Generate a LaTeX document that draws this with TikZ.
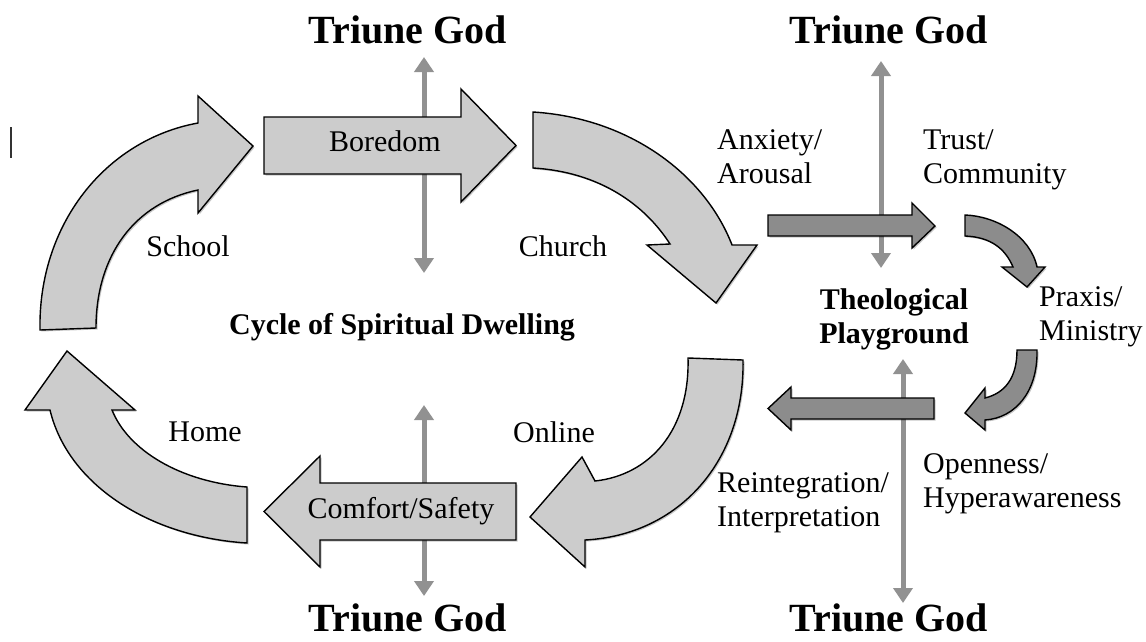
\documentclass[tikz,border=0pt]{standalone}
\usepackage{fontspec}
\setmainfont{Liberation Serif}
\usetikzlibrary{arrows.meta,shadows}
\definecolor{lightfill}{RGB}{204,204,204}
\definecolor{darkfill}{RGB}{140,140,140}
\definecolor{godgray}{RGB}{145,145,145}
\tikzset{
  lbl/.style={font=\fontsize{30}{34}\selectfont, inner sep=0pt, align=left},
  blbl/.style={font=\fontsize{30}{34}\selectfont\bfseries, inner sep=0pt, align=center},
  god/.style={font=\fontsize{40}{44}\selectfont\bfseries, inner sep=0pt, anchor=base},
  shade/.style={drop shadow={shadow xshift=1.5pt, shadow yshift=-1.5pt, fill=black, opacity=0.22}},
  bigarrow/.style={shade, fill=lightfill, draw=black, line width=1.4pt},
  darkarrow/.style={shade, fill=darkfill, draw=black, line width=1.4pt},
  godline/.style={draw=godgray, line width=5pt,
    {Triangle[width=19pt,length=15pt]}-{Triangle[width=19pt,length=15pt]}},
}
\begin{document}
\begin{tikzpicture}[x=1pt,y=-1pt]
\useasboundingbox (0,0) rectangle (1146,641);
\fill[white] (0,0) rectangle (1146,641);

% stray cursor mark
\draw[line width=1.3pt, black!80] (11,127) -- (11,158);

% Triune God labels
\node[god] (godTL) at (408,43) {Triune God};
\node[god] (godTR) at (889,43) {Triune God};
\node[god] (godBL) at (408,631) {Triune God};
\node[god] (godBR) at (889,631) {Triune God};

% vertical double arrows (behind)
\coordinate (vlt1) at (424,57);  \coordinate (vlt2) at (424,273);
\coordinate (vrt1) at (881,61);  \coordinate (vrt2) at (881,268);
\coordinate (vlb1) at (424,405); \coordinate (vlb2) at (424,596);
\coordinate (vrb1) at (903,359); \coordinate (vrb2) at (903,603);
\draw[godline] (vlt1) -- (vlt2);
\draw[godline] (vrt1) -- (vrt2);
\draw[godline] (vlb1) -- (vlb2);
\draw[godline] (vrb1) -- (vrb2);

% big cycle arrows
% School (up-right)
\path[bigarrow] (40,330) .. controls (38,225) and (105,140) .. (198,123)
  -- (198,96) -- (253,146) -- (198,213) -- (198,190)
  .. controls (135,203) and (96,255) .. (96,328) -- cycle;
% Boredom
\path[bigarrow] (264,117) -- (461,117) -- (461,89) -- (516,145.5) -- (461,202)
  -- (461,174) -- (264,174) -- cycle;
% Church (down-right)
\path[bigarrow] (533,112) .. controls (630,118) and (705,175) .. (732,245)
  -- (757,245) -- (716,303) -- (647,245) -- (670,244)
  .. controls (645,205) and (600,172) .. (533,168) -- cycle;
% Online (down-left)
\path[bigarrow] (688,358) -- (743,360) .. controls (745,460) and (680,535) .. (585,540)
  -- (585,567) -- (530,517) -- (582,457) -- (595,481)
  .. controls (650,475) and (690,430) .. (688,358) -- cycle;
% Comfort/Safety
\path[bigarrow] (516,483) -- (320,483) -- (320,456) -- (264,511.5) -- (320,567)
  -- (320,540) -- (516,540) -- cycle;
% Home (up-left)
\path[bigarrow] (247,487) -- (247,543) .. controls (150,537) and (68,485) .. (50,410)
  -- (25,410) -- (67,351) -- (135,410) -- (112,410)
  .. controls (128,450) and (180,482) .. (247,487) -- cycle;

% dark playground arrows
\path[darkarrow] (768,215) -- (912,215) -- (912,203) -- (935,226) -- (912,248)
  -- (912,236) -- (768,236) -- cycle;
\path[darkarrow] (965,215) .. controls (995,216) and (1030,235) .. (1037,267)
  -- (1045,267) -- (1027,287) -- (1002,267) -- (1013,267)
  .. controls (1005,248) and (990,237) .. (965,236) -- cycle;
\path[darkarrow] (1017,350) -- (1037,350) .. controls (1038,392) and (1015,418) .. (985,420)
  -- (985,430) -- (965,413) -- (985,388) -- (985,398)
  .. controls (1005,393) and (1017,378) .. (1017,350) -- cycle;
\path[darkarrow] (934,398) -- (791,398) -- (791,387) -- (768,408.5) -- (791,430)
  -- (791,419) -- (934,419) -- cycle;

% labels
\node[lbl, anchor=base] (boredom) at (385,151) {Boredom};
\node[lbl, anchor=base] (comfort) at (401,518) {Comfort/Safety};
\node[lbl, anchor=base] (school) at (188,256) {School};
\node[lbl, anchor=base] (church) at (563,256) {Church};
\node[lbl, anchor=base] (home) at (205,441) {Home};
\node[lbl, anchor=base] (online) at (554,442) {Online};
\node[blbl, anchor=base] (cycle) at (402,334) {Cycle of Spiritual Dwelling};
\node[lbl, anchor=west] (anxiety) at (717,157) {Anxiety/\\Arousal};
\node[lbl, anchor=west] (trust) at (923,160) {Trust/\\Community};
\node[blbl] (theo) at (894,319) {Theological\\Playground};
\node[lbl, anchor=west] (praxis) at (1039,317) {Praxis/\\Ministry};
\node[lbl, anchor=west] (open) at (923,484) {Openness/\\Hyperawareness};
\node[lbl, anchor=west] (reint) at (717,503) {Reintegration/\\Interpretation};
\end{tikzpicture}
\end{document}
